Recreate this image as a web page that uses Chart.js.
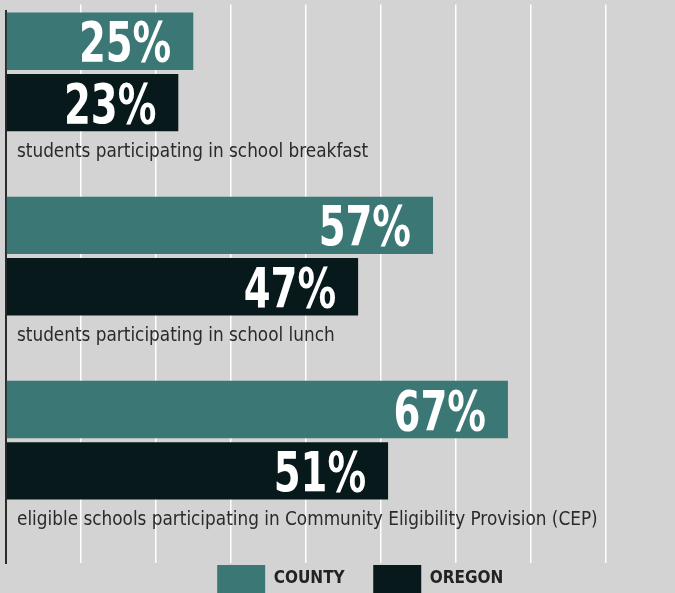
<!DOCTYPE html>
<html>
<head>
<meta charset="utf-8">
<script src="https://cdn.jsdelivr.net/npm/chart.js@4"></script>
<style>
html,body{margin:0;padding:0;background:#d3d3d3;}
#wrap{width:675px;height:593px;position:relative;}
</style>
</head>
<body>
<div id="wrap"><canvas id="c" width="675" height="593"></canvas></div>
<script>
// ---- data ----
const categories = [
  'students participating in school breakfast',
  'students participating in school lunch',
  'eligible schools participating in Community Eligibility Provision (CEP)'
];
const seriesNames = ['COUNTY', 'OREGON'];
const countyValues = [25, 57, 67];
const oregonValues = [23, 47, 51];
const gridTicks = [10, 20, 30, 40, 50, 60, 70, 80];

// ---- build rows: county bar, oregon bar, label row per category ----
const rowLabels = [];
const countyRows = [];
const oregonRows = [];
categories.forEach((c, i) => {
  rowLabels.push('', '', c);
  countyRows.push(countyValues[i], null, null);
  oregonRows.push(null, oregonValues[i], null);
});

const FONT = '"DejaVu Sans Condensed", "DejaVu Sans", sans-serif';
const COUNTY_COLOR = '#3b7775';
const OREGON_COLOR = '#08191b';

const valueLabels = {
  id: 'valueLabels',
  afterDatasetsDraw(chart) {
    const ctx = chart.ctx;
    const sx = 0.78;
    ctx.save();
    ctx.scale(sx, 1);
    ctx.fillStyle = '#ffffff';
    ctx.font = 'bold 55px ' + FONT;
    ctx.textAlign = 'right';
    ctx.textBaseline = 'alphabetic';
    chart.data.datasets.forEach((ds, di) => {
      const meta = chart.getDatasetMeta(di);
      meta.data.forEach((bar, i) => {
        const v = ds.data[i];
        if (v === null || v === undefined) return;
        ctx.fillText(v + '%', (bar.x - 22) / sx, bar.y + 20);
      });
    });
    ctx.restore();
  }
};

new Chart(document.getElementById('c'), {
  type: 'bar',
  data: {
    labels: rowLabels,
    datasets: [
      { label: seriesNames[0] + '     ', data: countyRows, backgroundColor: COUNTY_COLOR, grouped: false,
        categoryPercentage: 1, barPercentage: 0.935 },
      { label: seriesNames[1], data: oregonRows, backgroundColor: OREGON_COLOR, grouped: false,
        categoryPercentage: 1, barPercentage: 0.935 }
    ]
  },
  options: {
    responsive: false,
    animation: false,
    devicePixelRatio: 1,
    indexAxis: 'y',
    layout: { padding: { left: 6, right: -39.5, top: 4.5, bottom: -10 } },
    scales: {
      x: {
        position: 'top',
        min: 0,
        max: 89.3,
        afterFit: (scale) => { scale.height = 6; scale.paddingLeft = 0; scale.paddingRight = 0; },
        ticks: { display: false, stepSize: 10 },
        grid: {
          color: (ctx) => (ctx.tick && gridTicks.includes(ctx.tick.value)) ? '#ffffff' : 'rgba(0,0,0,0)',
          lineWidth: 1.5,
          drawTicks: true,
          tickLength: 6
        },
        border: { display: false }
      },
      y: {
        afterFit: (scale) => { scale.width = 0; scale.paddingTop = 0; scale.paddingBottom = 0; },
        ticks: {
          mirror: true,
          padding: 11,
          labelOffset: -12,
          autoSkip: false,
          color: '#2a2a2a',
          font: { family: FONT, size: 18.8 }
        },
        grid: { display: false, drawTicks: false },
        border: { display: true, color: '#2b2b2b', width: 2 }
      }
    },
    plugins: {
      tooltip: { enabled: false },
      legend: {
        position: 'bottom',
        labels: {
          boxWidth: 48,
          boxHeight: 28,
          padding: 2,
          color: '#222222',
          font: { family: FONT, size: 17, weight: 'bold' }
        }
      }
    }
  },
  plugins: [valueLabels]
});
</script>
</body>
</html>
